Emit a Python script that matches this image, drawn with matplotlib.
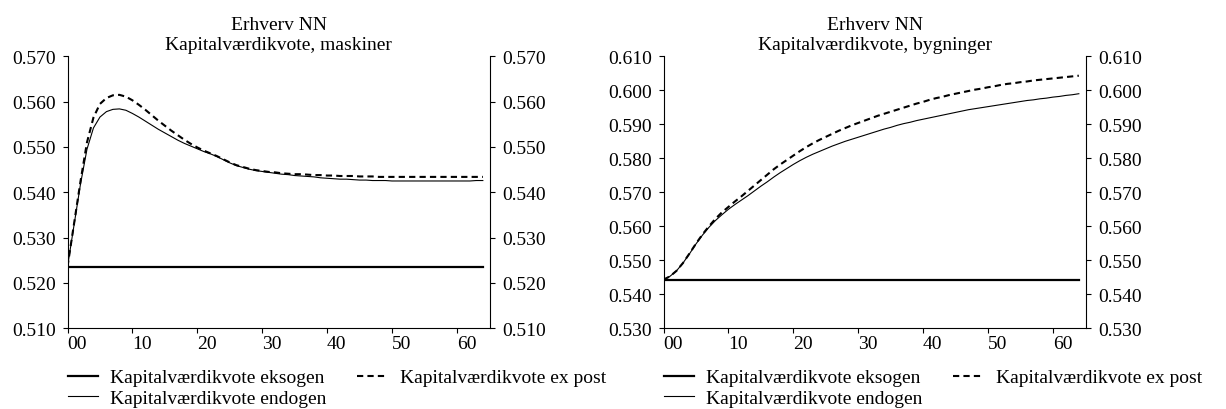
import matplotlib
matplotlib.use("Agg")
import matplotlib.pyplot as plt
from matplotlib.ticker import FormatStrFormatter

plt.rcParams['font.family'] = ['Liberation Serif', 'DejaVu Serif']
plt.rcParams['font.size'] = 14

years = list(range(65))
xtick_pos = [0, 10, 20, 30, 40, 50, 60]
xtick_labels = ["00", "10", "20", "30", "40", "50", "60"]

# maskiner
maskiner_eksogen = [0.5236] * 65
maskiner_endogen = [
    0.5236, 0.5327, 0.5418, 0.5495, 0.5542, 0.5566, 0.5578, 0.5583, 0.5584, 0.5581,
    0.5574, 0.5566, 0.5557, 0.5548, 0.5539, 0.5531, 0.5523, 0.5515, 0.5508, 0.5502,
    0.5496, 0.5490, 0.5485, 0.5479, 0.5472, 0.5465, 0.5459, 0.5455, 0.5451, 0.5448,
    0.5446, 0.5444, 0.5442, 0.5440, 0.5439, 0.5437, 0.5436, 0.5435, 0.5434, 0.5432,
    0.5431, 0.5430, 0.5429, 0.5429, 0.5428, 0.5427, 0.5427, 0.5426, 0.5426, 0.5426,
    0.5425, 0.5425, 0.5425, 0.5425, 0.5425, 0.5425, 0.5425, 0.5425, 0.5425, 0.5425,
    0.5425, 0.5425, 0.5425, 0.5426, 0.5426,
]
maskiner_expost = [
    0.5236, 0.5330, 0.5424, 0.5510, 0.5565, 0.5595, 0.5608, 0.5614, 0.5615, 0.5611,
    0.5603, 0.5593, 0.5582, 0.5570, 0.5558, 0.5547, 0.5536, 0.5526, 0.5516, 0.5507,
    0.5499, 0.5492, 0.5486, 0.5480, 0.5473, 0.5466, 0.5460, 0.5456, 0.5452, 0.5449,
    0.5447, 0.5445, 0.5444, 0.5442, 0.5441, 0.5440, 0.5440, 0.5439, 0.5438, 0.5438,
    0.5437, 0.5437, 0.5436, 0.5436, 0.5436, 0.5435, 0.5435, 0.5435, 0.5434, 0.5434,
    0.5434, 0.5434, 0.5434, 0.5434, 0.5434, 0.5434, 0.5434, 0.5434, 0.5434, 0.5434,
    0.5434, 0.5434, 0.5434, 0.5434, 0.5434,
]

# bygninger
bygninger_eksogen = [0.5443] * 65
bygninger_endogen = [
    0.5443, 0.5453, 0.5469, 0.5492, 0.5519, 0.5548, 0.5574, 0.5597, 0.5617, 0.5634,
    0.5650, 0.5664, 0.5677, 0.5690, 0.5704, 0.5718, 0.5731, 0.5745, 0.5758, 0.5770,
    0.5782, 0.5793, 0.5803, 0.5812, 0.5820, 0.5828, 0.5836, 0.5843, 0.5850, 0.5856,
    0.5862, 0.5868, 0.5874, 0.5880, 0.5886, 0.5891, 0.5897, 0.5902, 0.5906, 0.5911,
    0.5915, 0.5919, 0.5923, 0.5927, 0.5931, 0.5935, 0.5939, 0.5943, 0.5946, 0.5949,
    0.5952, 0.5955, 0.5958, 0.5961, 0.5964, 0.5967, 0.5970, 0.5972, 0.5975, 0.5977,
    0.5980, 0.5982, 0.5985, 0.5987, 0.5990,
]
bygninger_expost = [
    0.5443, 0.5453, 0.5469, 0.5492, 0.5520, 0.5549, 0.5576, 0.5600, 0.5622, 0.5641,
    0.5657, 0.5673, 0.5688, 0.5704, 0.5720, 0.5736, 0.5752, 0.5768, 0.5782, 0.5795,
    0.5808, 0.5821, 0.5833, 0.5844, 0.5854, 0.5863, 0.5872, 0.5881, 0.5889, 0.5897,
    0.5904, 0.5911, 0.5918, 0.5925, 0.5931, 0.5937, 0.5943, 0.5949, 0.5955, 0.5961,
    0.5966, 0.5972, 0.5977, 0.5981, 0.5986, 0.5990, 0.5994, 0.5998, 0.6002, 0.6005,
    0.6009, 0.6012, 0.6016, 0.6019, 0.6021, 0.6024, 0.6026, 0.6029, 0.6031, 0.6033,
    0.6035, 0.6037, 0.6039, 0.6041, 0.6043,
]

panels = [
    ("Erhverv NN\nKapitalværdikvote, maskiner", maskiner_eksogen, maskiner_endogen,
     maskiner_expost, (0.510, 0.570), [0.510, 0.520, 0.530, 0.540, 0.550, 0.560, 0.570]),
    ("Erhverv NN\nKapitalværdikvote, bygninger", bygninger_eksogen, bygninger_endogen,
     bygninger_expost, (0.530, 0.610),
     [0.530, 0.540, 0.550, 0.560, 0.570, 0.580, 0.590, 0.600, 0.610]),
]

fig = plt.figure(figsize=(12.26, 4.10), dpi=100)
lefts = [67.5 / 1226, 663.5 / 1226]

for left, (title, eks, endo, expost, ylim, yticks) in zip(lefts, panels):
    ax = fig.add_axes([left, 0.1968, 0.3446, 0.6634])
    l1, = ax.plot(years, eks, color='black', lw=1.6, label='Kapitalværdikvote eksogen')
    l2, = ax.plot(years, endo, color='black', lw=0.8, label='Kapitalværdikvote endogen')
    l3, = ax.plot(years, expost, color='black', lw=1.5, ls=(0, (3, 2)),
                  label='Kapitalværdikvote ex post')
    ax.set_xlim(0, 65.1)
    ax.set_ylim(*ylim)
    ax.set_yticks(yticks)
    ax.yaxis.set_major_formatter(FormatStrFormatter('%.3f'))
    ax.set_xticks(xtick_pos)
    ax.set_xticklabels(xtick_labels, ha='left')
    ax.spines['top'].set_visible(False)
    ax.tick_params(axis='y', which='both', direction='out', length=3.5, width=0.8,
                   left=True, right=True, labelleft=True, labelright=True, pad=5)
    ax.tick_params(axis='x', direction='out', length=3.5, width=0.8, pad=1)
    ax.set_title(title, fontsize=14, pad=5, linespacing=1.25)
    fig.legend(handles=[l1, l2, l3], loc='upper left',
               bbox_to_anchor=(left, 0.098), ncol=2, frameon=False,
               borderpad=0, borderaxespad=0, handlelength=1.55, handletextpad=0.63,
               columnspacing=1.6, labelspacing=0.15, fontsize=14)

fig.savefig('out.png', dpi=100)
